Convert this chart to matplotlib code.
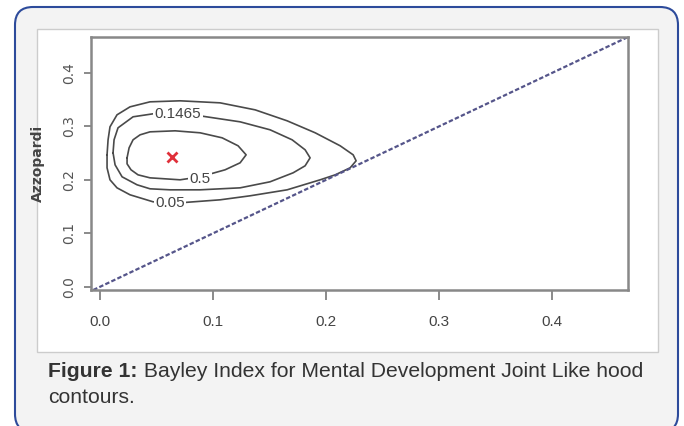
import matplotlib
matplotlib.use('Agg')
import matplotlib.pyplot as plt
from matplotlib.patches import FancyBboxPatch, Rectangle
from matplotlib.transforms import IdentityTransform

# contour outlines (x, y in data units)
outer_x = [0.0062, 0.0071, 0.0088, 0.0150, 0.0265, 0.0442, 0.0708, 0.1062, 0.1372, 0.1655, 0.1903, 0.2124, 0.2239,
           0.2265, 0.2212, 0.2080, 0.1947, 0.1655, 0.1327, 0.1062, 0.0708, 0.0469, 0.0265, 0.0150, 0.0088, 0.0062]
outer_y = [0.2467, 0.2748, 0.2991, 0.3215, 0.3364, 0.3458, 0.3477, 0.3439, 0.3308, 0.3103, 0.2879, 0.2636, 0.2467,
           0.2355, 0.2224, 0.2093, 0.2000, 0.1813, 0.1701, 0.1626, 0.1570, 0.1589, 0.1720, 0.1850, 0.2000, 0.2224]

mid_x = [0.0115, 0.0124, 0.0159, 0.0292, 0.0469, 0.0708, 0.0885, 0.1239, 0.1504, 0.1699, 0.1814,
         0.1858, 0.1814, 0.1708, 0.1504, 0.1239, 0.0885, 0.0619, 0.0442, 0.0327, 0.0195, 0.0133]
mid_y = [0.2505, 0.2748, 0.2972, 0.3178, 0.3234, 0.3234, 0.3196, 0.3084, 0.2935, 0.2748, 0.2561,
         0.2411, 0.2262, 0.2131, 0.1963, 0.1850, 0.1813, 0.1813, 0.1832, 0.1907, 0.2056, 0.2280]

inner_x = [0.0239, 0.0257, 0.0292, 0.0354, 0.0442, 0.0664, 0.0885, 0.1080, 0.1221,
           0.1292, 0.1239, 0.1106, 0.0885, 0.0708, 0.0442, 0.0336, 0.0274, 0.0239]
inner_y = [0.2411, 0.2598, 0.2748, 0.2841, 0.2897, 0.2916, 0.2879, 0.2785, 0.2636,
           0.2467, 0.2318, 0.2187, 0.2056, 0.2000, 0.2037, 0.2093, 0.2187, 0.2299]

levels = ['0.05', '0.1465', '0.5']
label_x = [0.062, 0.069, 0.0885]
label_y = [0.157, 0.3225, 0.2019]

mle_x = 0.0637
mle_y = 0.243

ticks = [0.0, 0.1, 0.2, 0.3, 0.4]
tick_labels = ['0.0', '0.1', '0.2', '0.3', '0.4']

W, H = 684, 426
fig = plt.figure(figsize=(W/100, H/100), dpi=100)
fig.patch.set_facecolor('white')

# rounded frame + white panel (pixel coords, origin bottom-left)
frame = FancyBboxPatch((15, -6), 663, H-7+6, boxstyle='round,pad=0,rounding_size=18',
                       transform=IdentityTransform(), facecolor='#f3f3f3', edgecolor='#2d4b9b', lw=1.5,
                       zorder=-10)
fig.patches.append(frame)
panel = Rectangle((37, H-352), 621, 323, transform=IdentityTransform(),
                  facecolor='white', edgecolor='#cccccc', lw=1, zorder=-9)
fig.patches.append(panel)

ax = fig.add_axes([91/W, 1-290/H, (628-91)/W, (290-37)/H])
ax.set_xlim(-0.008, 0.467)
ax.set_ylim(-0.006, 0.467)

for xs, ys in [(outer_x, outer_y), (mid_x, mid_y), (inner_x, inner_y)]:
    ax.plot(xs + xs[:1], ys + ys[:1], color='#4a4a4a', lw=1.2, solid_joinstyle='round')

for lab, lx, ly in zip(levels, label_x, label_y):
    ax.text(lx, ly, lab, ha='center', va='center', fontsize=11, family='Liberation Sans', color='#444444',
            bbox=dict(facecolor='white', edgecolor='none', pad=1.0))

ax.axline((0, 0), (1, 1), color='#55558a', lw=1.6, ls=(0, (2, 1)))
ax.plot([mle_x], [mle_y], marker='x', color='#e0303a', ms=7, mew=2)

for s in ax.spines.values():
    s.set_color('#888888')
    s.set_linewidth(1.8)

ax.set_xticks(ticks)
ax.set_xticklabels(tick_labels, family='Liberation Sans', fontsize=11, color='#444444')
ax.set_yticks(ticks)
ax.set_yticklabels(tick_labels, rotation=90, va='center', fontsize=10, color='#555555')
ax.tick_params(axis='x', length=7, width=1.2, color='#777777', pad=11)
ax.tick_params(axis='y', length=5, width=1.2, color='#777777', pad=6)
ax.set_ylabel('Azzopardi', fontsize=10, fontweight='bold', color='#444444')
ax.yaxis.set_label_coords(-0.0857, 0.502)

# caption
r = fig.canvas.get_renderer()
t1 = fig.text(48/W, 1-377/H, 'Figure 1:', fontsize=15.2, fontweight='bold', family='Liberation Sans',
              color='#333333', va='baseline')
bb = t1.get_window_extent(renderer=r)
fig.text(bb.x1/W, 1-377/H, ' Bayley Index for Mental Development Joint Like hood', fontsize=15.2,
         family='Liberation Sans', color='#333333', va='baseline')
fig.text(48/W, 1-403/H, 'contours.', fontsize=15.2, family='Liberation Sans', color='#333333', va='baseline')

fig.savefig('out.png', dpi=100)
print('plot done')
